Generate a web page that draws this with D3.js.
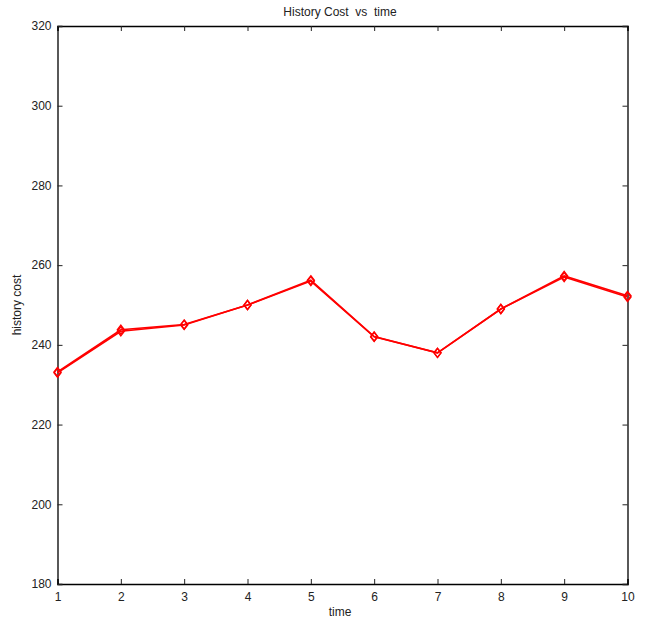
<!DOCTYPE html>
<html><head><meta charset="utf-8">
<script src="https://cdn.jsdelivr.net/npm/d3@7"></script>
<style>body{margin:0;background:#fff}svg{display:block}text{font-family:"Liberation Sans",Arial,sans-serif}</style>
</head><body><svg id="c" width="656" height="621"></svg>
<script>
const times = [1,2,3,4,5,6,7,8,9,10];
const costA = [233, 243.4, 245, 250, 256, 242, 238, 249, 257, 252];
const costB = [233.2, 243.8, 245.1, 250, 256.2, 242.1, 238, 249, 257.3, 252.3];
const xTicks = [1,2,3,4,5,6,7,8,9,10];
const yTicks = [180,200,220,240,260,280,300,320];

const svg = d3.select("#c");
const L=57.5, R=627.5, T=26, B=584;
const x = d3.scaleLinear().domain([1,10]).range([L,R]);
const y = d3.scaleLinear().domain([180,320]).range([B,T]);
svg.append("rect").attr("x",0).attr("y",0).attr("width",656).attr("height",621).attr("fill","#fff");

const tk=5;
const g = svg.append("g");
// bottom axis
const xb = g.append("g").attr("transform",`translate(0,${B})`).call(d3.axisBottom(x).tickValues(xTicks).tickSize(-tk).tickPadding(8).tickFormat(d3.format("d")));
const xt = g.append("g").attr("transform",`translate(0,${T})`).call(d3.axisTop(x).tickValues(xTicks).tickSize(-tk).tickFormat(""));
const yl = g.append("g").attr("transform",`translate(${L},0)`).call(d3.axisLeft(y).tickValues(yTicks).tickSize(-tk).tickPadding(6));
const yr = g.append("g").attr("transform",`translate(${R},0)`).call(d3.axisRight(y).tickValues(yTicks).tickSize(-tk).tickFormat(""));
[xb,xt,yl,yr].forEach(a=>{
  a.select(".domain").attr("stroke","#000").attr("stroke-width",1.3);
  a.selectAll(".tick line").attr("stroke","#222").attr("stroke-width",1);
  a.selectAll(".tick text").attr("fill","#222").style("font-size","12px");
});

const line = d3.line().x((d,i)=>x(times[i])).y(d=>y(d));
[costA,costB].forEach(s=>{
  svg.append("path").datum(s).attr("d",line).attr("fill","none").attr("stroke","#ff0000").attr("stroke-width",1.6);
  svg.selectAll(null).data(s).enter().append("path")
    .attr("transform",(d,i)=>`translate(${x(times[i])},${y(d)})`)
    .attr("d","M0,-4.5L3.5,0L0,4.5L-3.5,0Z")
    .attr("fill","none").attr("stroke","#ff0000").attr("stroke-width",1.4);
});

svg.append("text").attr("x",340).attr("y",16).attr("text-anchor","middle").style("font-size","12px").attr("fill","#222").text("History Cost  vs  time").attr("xml:space","preserve").style("white-space","pre");
svg.append("text").attr("x",340).attr("y",616).attr("text-anchor","middle").style("font-size","12px").attr("fill","#222").text("time");
svg.append("text").attr("transform","translate(21,305) rotate(-90)").attr("text-anchor","middle").style("font-size","12px").attr("fill","#222").text("history cost");
</script></body></html>
